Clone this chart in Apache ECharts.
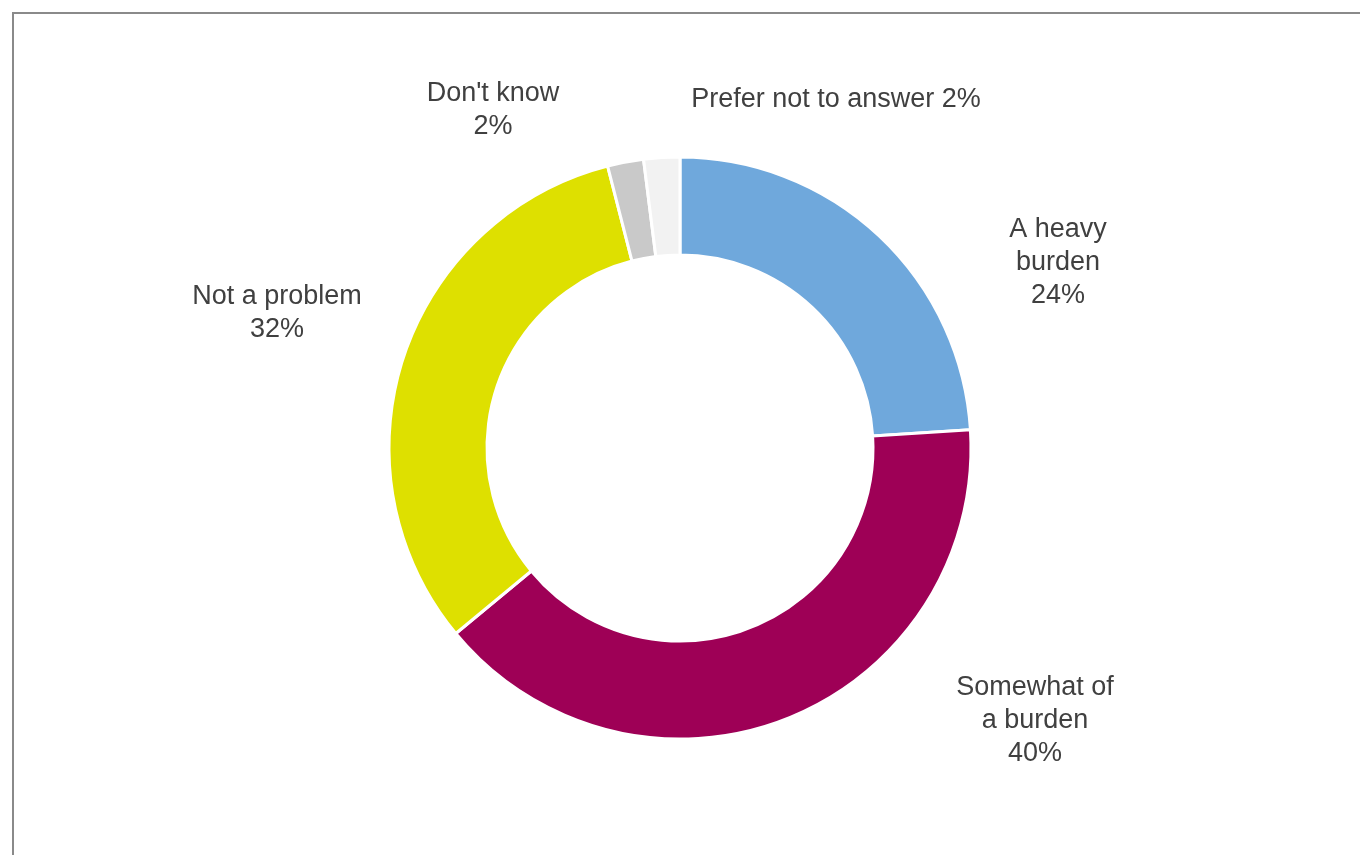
<!DOCTYPE html>
<html>
<head>
<meta charset="utf-8">
<title>Burden of the issue</title>
<script src="https://cdn.jsdelivr.net/npm/echarts@6/dist/echarts.min.js"></script>
<style>
  html, body { margin: 0; padding: 0; background: #ffffff; }
  #chart { width: 1360px; height: 855px; }
</style>
</head>
<body>
<div id="chart"></div>
<script>
// Survey answers, clockwise from 12 o'clock
const categories = ['A heavy burden', 'Somewhat of a burden', 'Not a problem', "Don't know", 'Prefer not to answer'];
const shares = [24, 40, 32, 2, 2];
// Label text lines for each answer (value appended from shares)
const labelLines = [['A heavy', 'burden'], ['Somewhat of', 'a burden'], ['Not a problem'], ["Don't know"], ['Prefer not to answer']];

const colors = ['#6FA8DC', '#9E0056', '#DEE000', '#C9C9C9', '#F2F2F2'];
// where each label's centre sits on the page
const labelSpots = [
  { x: 1058, y: 263 },
  { x: 1035, y: 721 },
  { x: 277, y: 313 },
  { x: 493, y: 110 },
  { x: 836, y: 100 }
];

const chart = echarts.init(document.getElementById('chart'));

const data = categories.map((name, i) => ({
  name: name,
  value: shares[i],
  itemStyle: { color: colors[i] },
  label: {
    formatter: i === 4
      ? labelLines[i][0] + ' ' + shares[i] + '%'
      : labelLines[i].concat([shares[i] + '%']).join('\n')
  }
}));

chart.setOption({
  backgroundColor: '#ffffff',
  animation: false,
  graphic: [{
    type: 'rect',
    shape: { x: 13, y: 13, width: 1400, height: 900 },
    style: { fill: 'none', stroke: '#8a8a8a', lineWidth: 2 },
    silent: true
  }],
  series: [{
    type: 'pie',
    center: [680, 448],
    radius: [193, 291],
    startAngle: 90,
    clockwise: true,
    avoidLabelOverlap: false,
    itemStyle: { borderColor: '#ffffff', borderWidth: 3 },
    label: {
      show: true,
      position: 'outside',
      color: '#404040',
      fontFamily: 'Liberation Sans, Arial, sans-serif',
      fontSize: 27,
      lineHeight: 33,
      align: 'center'
    },
    labelLine: { show: false },
    labelLayout: function (p) {
      const s = labelSpots[p.dataIndex];
      return { x: s.x, y: s.y, align: 'center', verticalAlign: 'middle' };
    },
    emphasis: { disabled: true },
    data: data
  }]
});
</script>
</body>
</html>
